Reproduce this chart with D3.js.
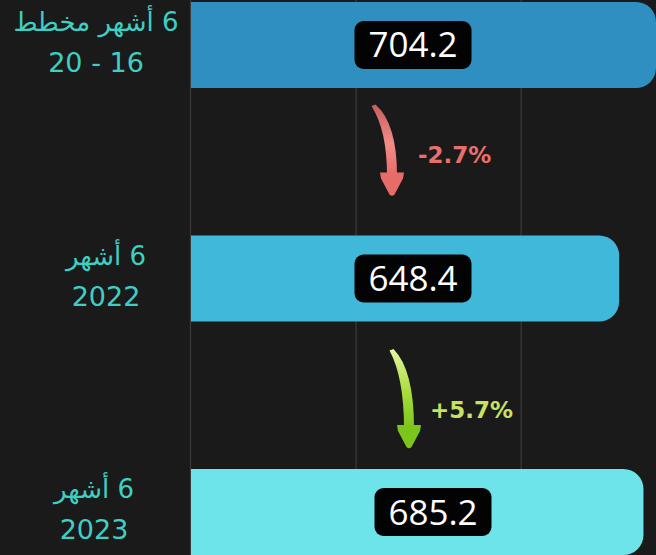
<!DOCTYPE html>
<html>
<head>
<meta charset="utf-8">
<script src="https://cdn.jsdelivr.net/npm/d3@7"></script>
<style>
  html, body { margin: 0; padding: 0; background: #1b1a1b; }
  svg { display: block; }
</style>
</head>
<body>
<svg id="chart" width="656" height="555"></svg>
<script>
// ---- data ----
const categories = ["plan", "2022", "2023"];
const labelsTop = ["6 أشهر مخطط", "6 أشهر", "6 أشهر"];
const labelsBottom = ["16 - 20", "2022", "2023"];
const values = [704.2, 648.4, 685.2];
const changes = ["-2.7%", "+5.7%"];
const gridTicks = [250, 500];

// ---- styles / layout ----
const barColors = ["#2f8fc1", "#40b8da", "#6de4e9"];
const changeColors = [["#c25e5e", "#f48c88", "#e66c68"], ["#e6f6a0", "#a8dd3c", "#7cc61c"]];
const changeTextColors = ["#e8706b", "#c9e163"];
const labelColor = "#3ecfc4";
const valueBoxCx = [413, 413, 433];
const labelCx = [96, 106, 94];

const W = 656, H = 555;
const svg = d3.select("#chart");
svg.append("rect").attr("width", W).attr("height", H).attr("fill", "#1b1a1b");

const x = d3.scaleLinear().domain([0, 704.2]).range([191, 656]);
const y = d3.scaleBand().domain(categories).range([2, 555]).paddingInner(0.6317).paddingOuter(0);

// grid lines
svg.append("g").selectAll("line").data(gridTicks).join("line")
  .attr("x1", d => x(d)).attr("x2", d => x(d))
  .attr("y1", 0).attr("y2", H)
  .attr("stroke", "#3b3b3b").attr("stroke-width", 1.2);
// axis line
svg.append("line").attr("x1", x(0) - 0.5).attr("x2", x(0) - 0.5).attr("y1", 0).attr("y2", H)
  .attr("stroke", "#3b3b3b").attr("stroke-width", 1.2);

// bars (square left, rounded right)
function barPath(x0, y0, w, h, r) {
  return `M${x0},${y0} H${x0 + w - r} A${r},${r} 0 0 1 ${x0 + w},${y0 + r} V${y0 + h - r} A${r},${r} 0 0 1 ${x0 + w - r},${y0 + h} H${x0} Z`;
}
svg.append("g").selectAll("path").data(values).join("path")
  .attr("d", (d, i) => barPath(x(0), y(categories[i]), x(d) - x(0), y.bandwidth(), 20))
  .attr("fill", (d, i) => barColors[i]);

// value boxes
const vb = svg.append("g").selectAll("g").data(values).join("g")
  .attr("transform", (d, i) => `translate(${valueBoxCx[i]},${y(categories[i]) + y.bandwidth() / 2})`);
vb.append("rect").attr("x", -58.5).attr("y", -24).attr("width", 117).attr("height", 48)
  .attr("rx", 9).attr("fill", "#030303");
vb.append("text").attr("text-anchor", "middle").attr("y", 12.5)
  .attr("font-family", "'Open Sans', sans-serif").attr("font-weight", 400)
  .attr("font-size", 35).attr("fill", "#ffffff")
  .text(d => d3.format(".1f")(d));

// category labels
const lb = svg.append("g").selectAll("g").data(categories).join("g")
  .attr("transform", (d, i) => `translate(${labelCx[i]},${y(d) + y.bandwidth() / 2})`);
lb.append("text").attr("text-anchor", "middle").attr("direction", "rtl").attr("y", -14)
  .attr("font-family", "'DejaVu Sans', sans-serif").attr("font-size", 26).attr("fill", labelColor)
  .text((d, i) => labelsTop[i]);
lb.append("text").attr("text-anchor", "middle").attr("direction", "rtl").attr("y", 27)
  .attr("font-family", "'DejaVu Sans', sans-serif").attr("font-size", 27).attr("fill", labelColor)
  .text((d, i) => labelsBottom[i]);

// change arrows
const defs = svg.append("defs");
changeColors.forEach((c, i) => {
  const g = defs.append("linearGradient").attr("id", "ag" + i)
    .attr("x1", 0).attr("y1", 0).attr("x2", 0).attr("y2", 1);
  g.append("stop").attr("offset", "0%").attr("stop-color", c[0]);
  g.append("stop").attr("offset", "55%").attr("stop-color", c[1]);
  g.append("stop").attr("offset", "100%").attr("stop-color", c[2]);
});
const arrowGeom = changes.map((d, i) => {
  const gapTop = y(categories[i]) + y.bandwidth();
  const gapBot = y(categories[i + 1]);
  return i === 0
    ? { tx: 373, ty: gapTop + 18, hx: 392, hy: gapBot - 40, lx: 418, ly: gapTop + 75 }
    : { tx: 391, ty: gapTop + 29, hx: 409, hy: gapBot - 21, lx: 430, ly: gapTop + 97 };
});
const HH = 23, HW = 12, SW = 5;
function arrowShaft(g) {
  const sb = g.hy - HH + 3;
  const c1 = g.ty + (sb - g.ty) * 0.35, c2 = g.ty + (sb - g.ty) * 0.25;
  return `M${g.tx - 1.5},${g.ty} Q${g.hx - SW},${c1} ${g.hx - SW},${sb} L${g.hx + SW},${sb} Q${g.hx + SW},${c2} ${g.tx + 2.5},${g.ty - 1.5} Z`;
}
function arrowHead(g) {
  const top = g.hy - HH;
  return `M${g.hx - HW},${top} L${g.hx + HW},${top} L${g.hx + HW - 1},${top + 6} L${g.hx + 2.5},${g.hy - 1} Q${g.hx},${g.hy + 1.5} ${g.hx - 2.5},${g.hy - 1} L${g.hx - HW + 1},${top + 6} Z`;
}
const ar = svg.append("g").selectAll("g").data(changes).join("g");
ar.append("path").attr("d", (d, i) => arrowShaft(arrowGeom[i])).attr("fill", (d, i) => `url(#ag${i})`);
ar.append("path").attr("d", (d, i) => arrowHead(arrowGeom[i])).attr("fill", (d, i) => changeColors[i][2]);
ar.append("text").attr("x", (d, i) => arrowGeom[i].lx).attr("y", (d, i) => arrowGeom[i].ly)
  .attr("font-family", "'DejaVu Sans', sans-serif").attr("font-weight", "bold").attr("font-size", 23)
  .attr("fill", (d, i) => changeTextColors[i])
  .text(d => d);
</script>
</body>
</html>
